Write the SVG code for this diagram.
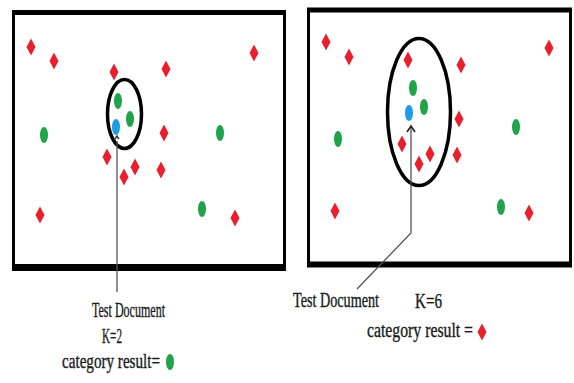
<svg xmlns="http://www.w3.org/2000/svg" width="574" height="383" viewBox="0 0 574 383">
<defs>
<style>
.frame{fill:none;stroke:#000;}
.r{fill:#e8202e;}
.g{fill:#21a34a;}
.b{fill:#1e9be6;}
.ring{fill:none;stroke:#000;stroke-width:3.5;}
.conn{fill:none;stroke:#555;stroke-width:1.3;}
.t{font-family:"Liberation Serif","Times New Roman",serif;font-size:20px;fill:#1a1a1a;stroke:#1a1a1a;stroke-width:0.35;}
</style>
<path id="d" d="M0,-8.5 L4.5,0 L0,8.5 L-4.5,0 Z"/>
<ellipse id="e" cx="0" cy="0" rx="4" ry="8"/>
</defs>
<rect width="574" height="383" fill="#fff"/>

<g id="left-panel">
<g class="frame">
<line x1="13.5" y1="12" x2="13.5" y2="268" stroke-width="3"/>
<line x1="284.5" y1="12" x2="284.5" y2="268" stroke-width="3"/>
<line x1="12" y1="12.5" x2="286" y2="12.5" stroke-width="5"/>
<line x1="12" y1="267.5" x2="286" y2="267.5" stroke-width="7"/>
</g>
<g class="r">
<use href="#d" x="31" y="47"/><use href="#d" x="54" y="61"/><use href="#d" x="114" y="72"/>
<use href="#d" x="166" y="69"/><use href="#d" x="254" y="53"/><use href="#d" x="164" y="133"/>
<use href="#d" x="107" y="157"/><use href="#d" x="135" y="167"/><use href="#d" x="124" y="177"/>
<use href="#d" x="161" y="170"/><use href="#d" x="40" y="215"/><use href="#d" x="235" y="218"/>
</g>
<g class="g">
<use href="#e" x="118" y="101"/><use href="#e" x="130" y="119"/><use href="#e" x="44" y="135"/>
<use href="#e" x="220" y="133"/><use href="#e" x="202" y="209"/>
</g>
<use id="left-test" href="#e" class="b" x="116" y="127"/>
<ellipse class="ring" cx="124.5" cy="114" rx="17" ry="34.5"/>
</g>

<g id="right-panel">
<g class="frame">
<line x1="308.5" y1="10" x2="308.5" y2="265" stroke-width="3"/>
<line x1="570.5" y1="10" x2="570.5" y2="265" stroke-width="3"/>
<line x1="307" y1="10" x2="572" y2="10" stroke-width="5"/>
<line x1="307" y1="264.5" x2="572" y2="264.5" stroke-width="6"/>
</g>
<g class="r">
<use href="#d" x="326" y="42"/><use href="#d" x="349" y="57"/><use href="#d" x="408" y="60"/>
<use href="#d" x="461" y="65"/><use href="#d" x="549" y="48"/><use href="#d" x="459" y="119"/>
<use href="#d" x="402" y="144"/><use href="#d" x="430" y="154"/><use href="#d" x="419" y="164"/>
<use href="#d" x="457" y="155"/><use href="#d" x="335" y="211"/><use href="#d" x="529" y="213"/>
</g>
<g class="g">
<use href="#e" x="413" y="88"/><use href="#e" x="424" y="107"/><use href="#e" x="338" y="139"/>
<use href="#e" x="516" y="127"/><use href="#e" x="501" y="207"/>
</g>
<use id="right-test" href="#e" class="b" x="409" y="113"/>
<ellipse class="ring" cx="419" cy="112" rx="31.5" ry="73.5"/>
</g>

<g id="connectors">
<path class="conn" d="M117,141 V292"/>
<path d="M115,139 L117,136 L119,139" fill="none" stroke="#333" stroke-width="1.5"/>
<path class="conn" d="M411,128 V233 L357,289"/>
<path d="M407,132 L411,126 L415,132" fill="none" stroke="#222" stroke-width="1.6"/>
</g>

<g id="left-label">
<text class="t" x="92" y="317" textLength="73" lengthAdjust="spacingAndGlyphs">Test Document</text>
<text class="t" x="102" y="343" textLength="20" lengthAdjust="spacingAndGlyphs">K=2</text>
<text class="t" x="62" y="368" textLength="98" lengthAdjust="spacingAndGlyphs">category result=</text>
<use href="#e" class="g" x="170" y="362"/>
</g>

<g id="right-label">
<text class="t" x="293" y="307" textLength="86" lengthAdjust="spacingAndGlyphs">Test Document</text>
<text class="t" x="415" y="308" textLength="27" lengthAdjust="spacingAndGlyphs">K=6</text>
<text class="t" x="367" y="337" textLength="106" lengthAdjust="spacingAndGlyphs">category result =</text>
<use href="#d" class="r" x="482" y="332"/>
</g>
</svg>
